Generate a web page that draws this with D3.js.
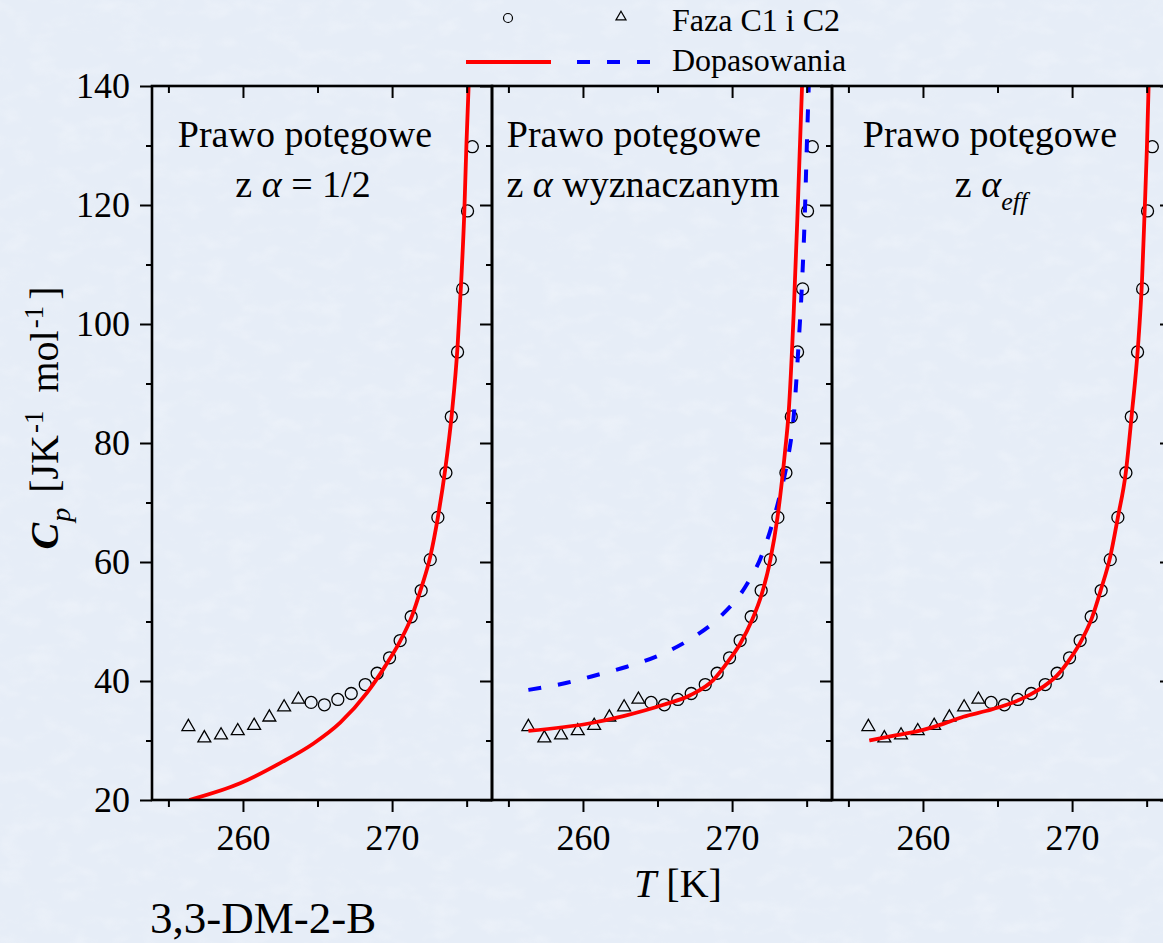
<!DOCTYPE html>
<html>
<head>
<meta charset="utf-8">
<script src="https://cdn.jsdelivr.net/npm/d3@7"></script>
<style>
  html, body { margin: 0; padding: 0; background: #e7eef7; }
  svg { display: block; font-family: "Liberation Serif", "Times New Roman", serif; }
</style>
</head>
<body>
<svg id="chart" width="1163" height="943"></svg>
<script>
// ---- axis ranges and ticks ----
const tempDomain = [253.9, 276.7];
const cpDomain = [20, 140];
const tempMajorTicks = [260, 270];
const tempMinorTicks = [255, 265, 275];
const cpMajorTicks = [20, 40, 60, 80, 100, 120, 140];
const cpMinorTicks = [30, 50, 70, 90, 110, 130];

// ---- measured heat capacity, phase C1 (triangles) ----
const phaseC1T  = [256.34, 257.41, 258.53, 259.65, 260.75, 261.77, 262.76, 263.72];
const phaseC1Cp = [32.3, 30.4, 30.9, 31.6, 32.5, 33.9, 35.6, 36.9];

// ---- measured heat capacity, phase C2 (circles) ----
const phaseC2T  = [264.57, 265.46, 266.36, 267.26, 268.20, 269.00, 269.83, 270.54, 271.28,
                   271.95, 272.56, 273.07, 273.61, 273.97, 274.39, 274.73, 275.06, 275.38];
const phaseC2Cp = [36.4, 36.0, 36.9, 37.9, 39.4, 41.3, 43.9, 46.8, 50.8,
                   55.2, 60.4, 67.5, 75.0, 84.4, 95.3, 105.9, 119.0, 129.8];

// ---- power-law fit, alpha = 1/2 ----
const fitHalfT  = [256.40, 259.81, 262.49, 264.73, 266.52, 268.31, 269.54, 270.54, 271.33, 271.95,
                   272.56, 273.07, 273.56, 274.01, 274.39, 274.64, 274.84, 274.98, 275.13];
const fitHalfCp = [20.0, 22.8, 26.2, 29.5, 33.0, 38.0, 42.5, 46.7, 50.9, 55.6,
                   60.9, 67.5, 75.5, 85.0, 96.2, 107.4, 118.6, 129.8, 139.9];

// ---- power-law fit, fitted alpha (solid) ----
const fitFreeT  = [256.34, 260.48, 262.71, 265.40, 267.19, 268.75, 269.65, 270.55, 271.33, 272.00,
                   272.56, 273.05, 273.56, 273.79, 274.13, 274.39, 274.69];
const fitFreeCp = [31.6, 32.9, 34.1, 36.0, 37.6, 40.2, 43.0, 46.3, 50.2, 54.7,
                   60.3, 67.6, 78.8, 85.0, 101.8, 118.6, 139.9];

// ---- power-law fit, fitted alpha (dashed) ----
const fitFreeAltT  = [256.34, 258.92, 260.93, 262.94, 265.18, 267.30, 269.20, 270.88, 272.00,
                      272.67, 273.23, 273.72, 274.15, 274.45, 274.70, 274.88, 275.01, 275.14];
const fitFreeAltCp = [38.5, 39.7, 41.0, 42.4, 44.4, 47.2, 50.8, 55.8, 61.2,
                      66.2, 71.5, 77.1, 85.0, 96.2, 107.4, 118.6, 129.8, 139.9];

// ---- power-law fit, effective alpha ----
const fitEffT  = [256.40, 258.24, 260.02, 261.36, 262.71, 264.28, 265.62, 267.19, 268.10, 268.98,
                  269.83, 270.54, 271.33, 271.95, 272.56, 273.07, 273.60, 274.01, 274.42, 274.69,
                  274.86, 275.02, 275.13];
const fitEffCp = [30.0, 30.9, 31.8, 32.8, 34.0, 35.0, 36.0, 37.7, 39.1, 40.9,
                  43.6, 46.4, 50.6, 55.5, 60.9, 67.5, 75.0, 85.0, 96.2, 107.4,
                  118.6, 129.8, 139.9];

// ---- layout ----
const W = 1163, H = 943;
const plotTop = 86, plotBottom = 800, panelWidth = 340;
const panelLefts = [152, 492, 832];
const serif = '"Liberation Serif", "Times New Roman", serif';

const svg = d3.select("#chart");
const defs = svg.append("defs");

// faint paper-like texture of the backdrop
const grain = defs.append("filter").attr("id", "grain")
  .attr("x", 0).attr("y", 0).attr("width", "100%").attr("height", "100%");
grain.append("feTurbulence").attr("type", "fractalNoise")
  .attr("baseFrequency", "0.035 0.06").attr("numOctaves", 3).attr("seed", 7).attr("result", "n");
grain.append("feColorMatrix").attr("in", "n").attr("type", "matrix")
  .attr("values", "0 0 0 0 1  0 0 0 0 1  0 0 0 0 1  0 0 0 -1.4 0.75");

svg.append("rect").attr("width", W).attr("height", H).attr("fill", "#e6edf7");
svg.append("rect").attr("width", W).attr("height", H).attr("filter", "url(#grain)").attr("opacity", 0.35);

const y = d3.scaleLinear().domain(cpDomain).range([plotBottom, plotTop]);

const zip = (a, b) => a.map((v, i) => [v, b[i]]);

const panels = [
  {
    fits: [{ pts: zip(fitHalfT, fitHalfCp), color: "#ff0000", dash: null }],
    title: [
      { cx: 305, y: 147, parts: [{ t: "Prawo potęgowe" }] },
      { cx: 303, y: 197, parts: [{ t: "z " }, { t: "α", it: true }, { t: " = 1/2" }] }
    ]
  },
  {
    fits: [
      { pts: zip(fitFreeAltT, fitFreeAltCp), color: "#0000ff", dash: "13,17" },
      { pts: zip(fitFreeT, fitFreeCp), color: "#ff0000", dash: null }
    ],
    title: [
      { cx: 634, y: 147, parts: [{ t: "Prawo potęgowe" }] },
      { cx: 643, y: 197, parts: [{ t: "z " }, { t: "α", it: true }, { t: " wyznaczanym" }] }
    ]
  },
  {
    fits: [{ pts: zip(fitEffT, fitEffCp), color: "#ff0000", dash: null }],
    title: [
      { cx: 990, y: 147, parts: [{ t: "Prawo potęgowe" }] },
      { cx: 991, y: 197, parts: [{ t: "z " }, { t: "α", it: true }, { t: "eff", it: true, sub: true }] }
    ]
  }
];

const triangle = d3.symbol().type(d3.symbolTriangle).size(72);
const triangleSmall = d3.symbol().type(d3.symbolTriangle).size(44);

function styleAxis(g) {
  g.select(".domain").remove();
  g.selectAll(".tick line").attr("stroke", "#000").attr("stroke-width", 2);
  g.selectAll(".tick text")
    .attr("fill", "#000")
    .attr("font-family", serif)
    .attr("font-size", 36);
  g.attr("font-family", null).attr("font-size", null);
}

panels.forEach((p, i) => {
  const left = panelLefts[i];
  const x = d3.scaleLinear().domain(tempDomain).range([left, left + panelWidth]);

  defs.append("clipPath").attr("id", "clip" + i)
    .append("rect")
    .attr("x", left).attr("y", plotTop)
    .attr("width", panelWidth).attr("height", plotBottom - plotTop);

  const g = svg.append("g");

  // titles
  p.title.forEach(line => {
    const t = g.append("text")
      .attr("x", line.cx).attr("y", line.y)
      .attr("text-anchor", "middle")
      .attr("font-size", 38)
      .attr("fill", "#000");
    line.parts.forEach(part => {
      const s = t.append("tspan").text(part.t);
      if (part.it) s.attr("font-style", "italic");
      if (part.sub) s.attr("font-size", 26).attr("dy", 13);
    });
  });

  // measured points
  const marks = g.append("g").attr("clip-path", `url(#clip${i})`);
  marks.selectAll("path.tri")
    .data(zip(phaseC1T, phaseC1Cp))
    .join("path")
    .attr("class", "tri")
    .attr("d", triangle)
    .attr("transform", d => `translate(${x(d[0])},${y(d[1])})`)
    .attr("fill", "none").attr("stroke", "#000").attr("stroke-width", 1.3);
  marks.selectAll("circle")
    .data(zip(phaseC2T, phaseC2Cp))
    .join("circle")
    .attr("cx", d => x(d[0])).attr("cy", d => y(d[1]))
    .attr("r", 6)
    .attr("fill", "none").attr("stroke", "#000").attr("stroke-width", 1.3);

  // fitted curves
  const line = d3.line().x(d => x(d[0])).y(d => y(d[1])).curve(d3.curveMonotoneX);
  const fits = g.append("g").attr("clip-path", `url(#clip${i})`);
  p.fits.forEach(f => {
    fits.append("path")
      .attr("d", line(f.pts))
      .attr("fill", "none")
      .attr("stroke", f.color)
      .attr("stroke-width", f.dash ? 4 : 3.8)
      .attr("stroke-dasharray", f.dash);
  });

  // bottom axis
  g.append("g").attr("transform", `translate(0,${plotBottom})`)
    .call(d3.axisBottom(x).tickValues(tempMajorTicks).tickSize(12).tickSizeOuter(0)
      .tickPadding(12).tickFormat(d3.format("d")))
    .call(styleAxis);
  g.append("g").attr("transform", `translate(0,${plotBottom})`)
    .call(d3.axisBottom(x).tickValues(tempMinorTicks).tickSize(7).tickSizeOuter(0).tickFormat(""))
    .call(styleAxis);
  // top axis (ticks pointing into the panel)
  g.append("g").attr("transform", `translate(0,${plotTop})`)
    .call(d3.axisTop(x).tickValues(tempMajorTicks).tickSize(-12).tickSizeOuter(0).tickFormat(""))
    .call(styleAxis);
  g.append("g").attr("transform", `translate(0,${plotTop})`)
    .call(d3.axisTop(x).tickValues(tempMinorTicks).tickSize(-7).tickSizeOuter(0).tickFormat(""))
    .call(styleAxis);

  // left axis
  const leftMajor = d3.axisLeft(y).tickValues(cpMajorTicks).tickSize(12).tickSizeOuter(0).tickPadding(10);
  if (i > 0) leftMajor.tickFormat("");
  g.append("g").attr("transform", `translate(${left},0)`).call(leftMajor).call(styleAxis);
  g.append("g").attr("transform", `translate(${left},0)`)
    .call(d3.axisLeft(y).tickValues(cpMinorTicks).tickSize(6).tickSizeOuter(0).tickFormat(""))
    .call(styleAxis);

  // right edge ticks of the last panel
  if (i === panels.length - 1) {
    const right = left + panelWidth;
    g.append("g").attr("transform", `translate(${right},0)`)
      .call(d3.axisLeft(y).tickValues(cpMajorTicks).tickSize(12).tickSizeOuter(0).tickFormat(""))
      .call(styleAxis);
    g.append("g").attr("transform", `translate(${right},0)`)
      .call(d3.axisLeft(y).tickValues(cpMinorTicks).tickSize(6).tickSizeOuter(0).tickFormat(""))
      .call(styleAxis);
  }

  // panel frame
  g.append("rect")
    .attr("x", left).attr("y", plotTop)
    .attr("width", panelWidth).attr("height", plotBottom - plotTop)
    .attr("fill", "none").attr("stroke", "#000").attr("stroke-width", 2.6);
});

// ---- axis titles ----
const yTitle = svg.append("text")
  .attr("transform", "translate(58,418) rotate(-90)")
  .attr("text-anchor", "middle")
  .attr("font-size", 40)
  .attr("fill", "#000");
yTitle.append("tspan").text("C").attr("font-style", "italic").attr("font-weight", "bold");
yTitle.append("tspan").text("p").attr("font-style", "italic").attr("font-size", 28).attr("dy", 12).attr("dx", 1);
yTitle.append("tspan").text(" [JK").attr("dy", -12).attr("dx", 5);
yTitle.append("tspan").text("-1").attr("font-size", 27).attr("dy", -15).attr("dx", 2);
yTitle.append("tspan").text(" mol").attr("dy", 15).attr("dx", 8);
yTitle.append("tspan").text("-1").attr("font-size", 27).attr("dy", -15).attr("dx", 2);
yTitle.append("tspan").text("]").attr("dy", 15).attr("dx", 6);

const xTitle = svg.append("text")
  .attr("x", 678).attr("y", 897)
  .attr("text-anchor", "middle")
  .attr("font-size", 40)
  .attr("fill", "#000");
xTitle.append("tspan").text("T").attr("font-style", "italic");
xTitle.append("tspan").text(" [K]");

svg.append("text")
  .attr("x", 150).attr("y", 933)
  .attr("font-size", 45)
  .attr("fill", "#000")
  .text("3,3-DM-2-B");

// ---- legend ----
const legend = svg.append("g");
legend.append("circle").attr("cx", 508).attr("cy", 18).attr("r", 4.5)
  .attr("fill", "none").attr("stroke", "#000").attr("stroke-width", 1.2);
legend.append("path").attr("d", triangleSmall).attr("transform", "translate(621,17)")
  .attr("fill", "none").attr("stroke", "#000").attr("stroke-width", 1.2);
legend.append("text").attr("x", 672).attr("y", 31).attr("font-size", 32).attr("fill", "#000")
  .text("Faza C1 i C2");
legend.append("line").attr("x1", 466).attr("x2", 551).attr("y1", 62).attr("y2", 62)
  .attr("stroke", "#ff0000").attr("stroke-width", 3.8);
legend.append("line").attr("x1", 577).attr("x2", 652).attr("y1", 62).attr("y2", 62)
  .attr("stroke", "#0000ff").attr("stroke-width", 4).attr("stroke-dasharray", "13,17");
legend.append("text").attr("x", 672).attr("y", 71).attr("font-size", 32).attr("fill", "#000")
  .text("Dopasowania");
</script>
</body>
</html>
